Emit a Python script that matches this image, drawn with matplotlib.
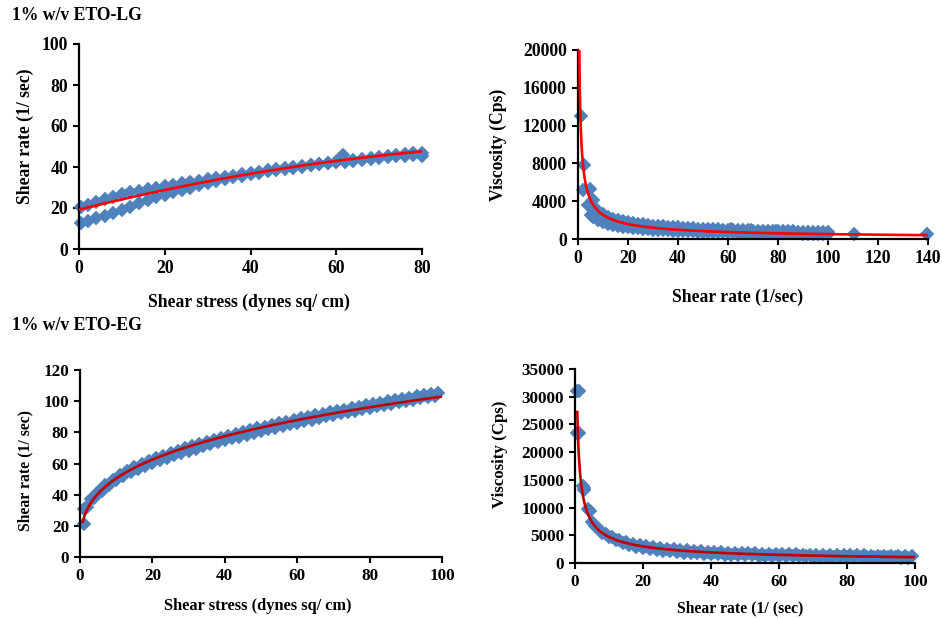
import matplotlib
matplotlib.use("Agg")
import matplotlib.pyplot as plt
import numpy as np

plt.rcParams['font.family'] = ['Liberation Serif', 'DejaVu Serif']
plt.rcParams['font.weight'] = 'bold'

BLUE = '#4F81BD'

# ---------------- Data: 1% w/v ETO-LG, flow curve ----------------
lg_flow_x = [0.5, 2, 4, 6, 8, 10, 12, 14, 16, 18, 20, 22, 24, 26, 28, 30, 32, 34, 36, 38, 40,
             42, 44, 46, 48, 50, 52, 54, 56, 58, 60, 62, 64, 66, 68, 70, 72, 74, 76, 78, 80]
lg_flow_lower = [12.5, 13.5, 15, 16.3, 17.5, 19, 20.5, 22.2, 23.8, 25.2, 26.5, 27.6, 28.8, 30, 31.2,
                 32.4, 33.4, 34.2, 35, 35.8, 36.5, 37.2, 37.9, 38.5, 39.1, 39.7, 40.2, 40.8, 41.3,
                 41.8, 42.3, 42.6, 43.1, 43.6, 44, 44.4, 44.8, 45.2, 45.6, 45.8, 45.5]
lg_flow_upper = [20.5, 21.5, 23, 24.5, 25.5, 26.8, 27.6, 28.4, 29.2, 30, 30.8, 31.4, 32, 32.7, 33.4,
                 34, 34.6, 35.2, 35.8, 36.5, 37.1, 37.7, 38.3, 38.9, 39.4, 39.9, 40.5, 41, 41.5,
                 42, 42.5, 43, 43.5, 44, 44.5, 45, 45.4, 45.8, 46.2, 46.6, 47]
lg_flow_extra_x = [61.5]
lg_flow_extra_y = [46]
lg_flow_fit = [19.2, 0.52, -0.00206]   # polynomial trendline c0 + c1 x + c2 x^2
lg_flow_fit_range = [0, 80]

# ---------------- Data: 1% w/v ETO-LG, viscosity ----------------
lg_vis_early_x = [1.2, 2.5, 2.1, 4.8, 4.1, 6.1, 5.2]
lg_vis_early_y = [13000, 7830, 5180, 5250, 3600, 4100, 2540]
lg_vis_x = [6, 8, 10, 12, 14, 16, 18, 20, 22, 24, 26, 28, 30, 32, 34, 36, 38, 40, 42, 44, 46, 48,
            50, 52, 54, 56, 58, 60, 62, 64, 66, 68, 70, 72, 74, 76, 78, 80, 82, 84, 86, 88, 90,
            92, 94, 96, 98, 100]
lg_vis_upper = [3450, 2940, 2600, 2360, 2165, 2010, 1885, 1780, 1690, 1610, 1540, 1475, 1420, 1375,
                1330, 1290, 1250, 1220, 1185, 1155, 1130, 1105, 1080, 1055, 1030, 1010, 990, 970,
                955, 935, 920, 905, 890, 878, 865, 853, 842, 830, 820, 810, 800, 790, 780, 770,
                762, 754, 746, 735]
lg_vis_lower = [2300, 2000, 1800, 1640, 1510, 1400, 1310, 1240, 1180, 1125, 1080, 1040, 1000, 970,
                940, 910, 885, 860, 840, 820, 800, 785, 770, 755, 740, 727, 715, 703, 692, 681,
                671, 661, 652, 643, 635, 627, 619, 612, 605, 598, 591, 585, 579, 573, 567, 562,
                557, 552]
lg_vis_extra_x = [61, 69, 79, 110.5, 139.6]
lg_vis_extra_y = [1090, 990, 880, 560, 480]
lg_vis_fit = [12700, -0.696]   # power trendline a * x^b
lg_vis_fit_range = [0.52, 140]

# ---------------- Data: 1% w/v ETO-EG, flow curve ----------------
eg_flow_x_up = [1, 3, 5, 7, 9, 11, 13, 15, 17, 19, 21, 23, 25, 27, 29, 31, 33, 35, 37, 39, 41, 43,
                45, 47, 49, 51, 53, 55, 57, 59, 61, 63, 65, 67, 69, 71, 73, 75, 77, 79, 81, 83,
                85, 87, 89, 91, 93, 95, 97, 99]
eg_flow_up = [31, 37, 42, 46, 49.5, 52.5, 55, 57.5, 59.5, 61.5, 63.5, 65, 66.7, 68.3, 69.8, 71.2,
              72.6, 74, 75.3, 76.6, 77.8, 79, 80.2, 81.4, 82.5, 83.6, 84.7, 85.8, 86.9, 87.9,
              88.9, 89.9, 90.9, 91.9, 92.8, 93.7, 94.6, 95.5, 96.4, 97.3, 98.2, 99, 99.9, 100.7,
              101.5, 102.3, 103.1, 103.9, 104.7, 105.5]
eg_flow_x_down = [1, 2, 4, 6, 8, 10, 12, 14, 16, 18, 20, 22, 24, 26, 28, 30, 32, 34, 36, 38, 40,
                  42, 44, 46, 48, 50, 52, 54, 56, 58, 60, 62, 64, 66, 68, 70, 72, 74, 76, 78, 80,
                  82, 84, 86, 88, 90, 92, 94, 96, 98]
eg_flow_down = [21, 32, 38, 42.5, 46, 49.3, 52, 54.5, 56.7, 58.7, 60.5, 62.2, 63.8, 65.3, 66.8,
                68.2, 69.6, 71, 72.3, 73.6, 74.9, 76.1, 77.3, 78.5, 79.7, 80.8, 81.9, 83, 84.1,
                85.2, 86.2, 87.2, 88.2, 89.2, 90.2, 91.2, 92.1, 93, 93.9, 94.8, 95.7, 96.6, 97.5,
                98.4, 99.3, 100.2, 101, 101.8, 102.6, 103.4]
eg_flow_fit = [24.7, 0.31]   # power trendline a * x^b
eg_flow_fit_range = [0.75, 100]

# ---------------- Data: 1% w/v ETO-EG, viscosity ----------------
eg_vis_early_x = [0.6, 1.1, 0.5, 1.3, 2.3, 2.7, 2.5, 3.9, 4.4]
eg_vis_early_y = [31000, 31000, 23400, 23400, 13900, 13200, 13600, 9700, 9300]
eg_vis_x_up = [5, 7, 9, 11, 13, 15, 17, 19, 21, 23, 25, 27, 29, 31, 33, 35, 37, 39, 41, 43, 45, 47,
               49, 51, 53, 55, 57, 59, 61, 63, 65, 67, 69, 71, 73, 75, 77, 79, 81, 83, 85, 87, 89,
               91, 93, 95, 97, 99]
eg_vis_up = [7400, 6200, 5300, 4650, 4150, 3750, 3450, 3200, 3000, 2830, 2680, 2560, 2450, 2350,
             2260, 2180, 2110, 2050, 1990, 1940, 1890, 1845, 1800, 1760, 1725, 1690, 1660, 1630,
             1600, 1575, 1550, 1525, 1500, 1480, 1460, 1440, 1420, 1400, 1385, 1370, 1355, 1340,
             1325, 1310, 1297, 1284, 1272, 1260]
eg_vis_x_down = [6, 8, 10, 12, 14, 16, 18, 20, 22, 24, 26, 28, 30, 32, 34, 36, 38, 40, 42, 44, 46,
                 48, 50, 52, 54, 56, 58, 60, 62, 64, 66, 68, 70, 72, 74, 76, 78, 80, 82, 84, 86,
                 88, 90, 92, 94, 96, 98]
eg_vis_down = [6700, 5500, 4700, 4100, 3600, 3250, 2950, 2700, 2500, 2340, 2200, 2080, 1980, 1890,
               1810, 1740, 1680, 1620, 1570, 1520, 1480, 1440, 1400, 1370, 1340, 1310, 1285, 1260,
               1235, 1215, 1195, 1175, 1155, 1140, 1125, 1110, 1095, 1080, 1067, 1055, 1043, 1031,
               1020, 1010, 1000, 990, 980]
eg_vis_fit = [21000, -0.65]
eg_vis_fit_range = [0.67, 100]

titles = ["1% w/v ETO-LG", "1% w/v ETO-EG"]

W, H = 942, 618
fig = plt.figure(figsize=(W / 100, H / 100), dpi=100)


def make_ax(l, r, b, t):
    return fig.add_axes([l / W, (H - b) / H, (r - l) / W, (b - t) / H])


def style(ax, xlim, xticks, ylim, yticks, fs):
    ax.set_xlim(*xlim)
    ax.set_ylim(*ylim)
    ax.set_xticks(xticks)
    ax.set_yticks(yticks)
    for s in ['top', 'right']:
        ax.spines[s].set_visible(False)
    for s in ['left', 'bottom']:
        ax.spines[s].set_linewidth(1.6)
        ax.spines[s].set_color('black')
    ax.tick_params(direction='out', length=4, width=1.5, labelsize=fs, pad=4)
    for lab in ax.get_xticklabels() + ax.get_yticklabels():
        lab.set_fontweight('bold')


def scatter(ax, x, y, ms=7):
    ax.plot(x, y, linestyle='none', marker='D', ms=ms, color=BLUE,
            markeredgecolor=BLUE, markeredgewidth=0.3, clip_on=False, zorder=2)


def labels(ax, xl, yl, xc, yc, fsx, fsy):
    ax.set_xlabel(xl, fontsize=fsx, fontweight='bold')
    ax.set_ylabel(yl, fontsize=fsy, fontweight='bold')
    ax.xaxis.label.set_va('center')
    ax.yaxis.label.set_va('center')
    ax.xaxis.set_label_coords(*xc)
    ax.yaxis.set_label_coords(*yc)


# ---- top-left ----
ax1 = make_ax(79, 422, 249, 44)
scatter(ax1, lg_flow_x, lg_flow_lower)
scatter(ax1, lg_flow_x, lg_flow_upper)
scatter(ax1, lg_flow_extra_x, lg_flow_extra_y)
xf = np.linspace(lg_flow_fit_range[0], lg_flow_fit_range[1], 200)
ax1.plot(xf, lg_flow_fit[0] + lg_flow_fit[1] * xf + lg_flow_fit[2] * xf ** 2,
         color='#FF0000', lw=1.9, zorder=3)
style(ax1, (0, 80), [0, 20, 40, 60, 80], (0, 100), [0, 20, 40, 60, 80, 100], 12.7)
labels(ax1, 'Shear stress (dynes sq/ cm)', 'Shear rate (1/ sec)', (0.496, -0.258), (-0.157, 0.551), 12.7, 12.7)

# ---- top-right ----
ax2 = make_ax(578, 928, 239, 50)
scatter(ax2, lg_vis_x, lg_vis_upper)
scatter(ax2, lg_vis_x, lg_vis_lower)
scatter(ax2, lg_vis_early_x, lg_vis_early_y)
scatter(ax2, lg_vis_extra_x, lg_vis_extra_y)
xf = np.geomspace(lg_vis_fit_range[0], lg_vis_fit_range[1], 400)
ax2.plot(xf, lg_vis_fit[0] * xf ** lg_vis_fit[1], color='#FF0000', lw=1.9, zorder=3)
style(ax2, (0, 140), list(range(0, 141, 20)), (0, 20000), list(range(0, 20001, 4000)), 12.7)
labels(ax2, 'Shear rate (1/sec)', 'Viscosity (Cps)', (0.457, -0.307), (-0.229, 0.497), 12.7, 12.7)

# ---- bottom-left ----
ax3 = make_ax(80, 442, 557, 370)
scatter(ax3, eg_flow_x_up, eg_flow_up)
scatter(ax3, eg_flow_x_down, eg_flow_down)
xf = np.linspace(eg_flow_fit_range[0], eg_flow_fit_range[1], 300)
ax3.plot(xf, eg_flow_fit[0] * xf ** eg_flow_fit[1], color='#C00000', lw=1.9, zorder=3)
style(ax3, (0, 100), list(range(0, 101, 20)), (0, 120), list(range(0, 121, 20)), 12.3)
labels(ax3, 'Shear stress (dynes sq/ cm)', 'Shear rate (1/ sec)', (0.492, -0.262), (-0.152, 0.46), 11.8, 11.3)

# ---- bottom-right ----
ax4 = make_ax(575, 915, 563, 369)
scatter(ax4, eg_vis_x_up, eg_vis_up)
scatter(ax4, eg_vis_x_down, eg_vis_down)
scatter(ax4, eg_vis_early_x, eg_vis_early_y)
xf = np.geomspace(eg_vis_fit_range[0], eg_vis_fit_range[1], 400)
ax4.plot(xf, eg_vis_fit[0] * xf ** eg_vis_fit[1], color='#C00000', lw=1.9, zorder=3)
style(ax4, (0, 100), list(range(0, 101, 20)), (0, 35000), list(range(0, 35001, 5000)), 12.3)
labels(ax4, 'Shear rate (1/ (sec)', 'Viscosity (Cps)', (0.485, -0.232), (-0.22, 0.56), 11.3, 12.2)

fig.text(12 / W, 1 - 16 / H, titles[0], ha='left', va='center', fontsize=12.7, fontweight='bold')
fig.text(12 / W, 1 - 325 / H, titles[1], ha='left', va='center', fontsize=12.7, fontweight='bold')

fig.savefig('out.png', dpi=100)
